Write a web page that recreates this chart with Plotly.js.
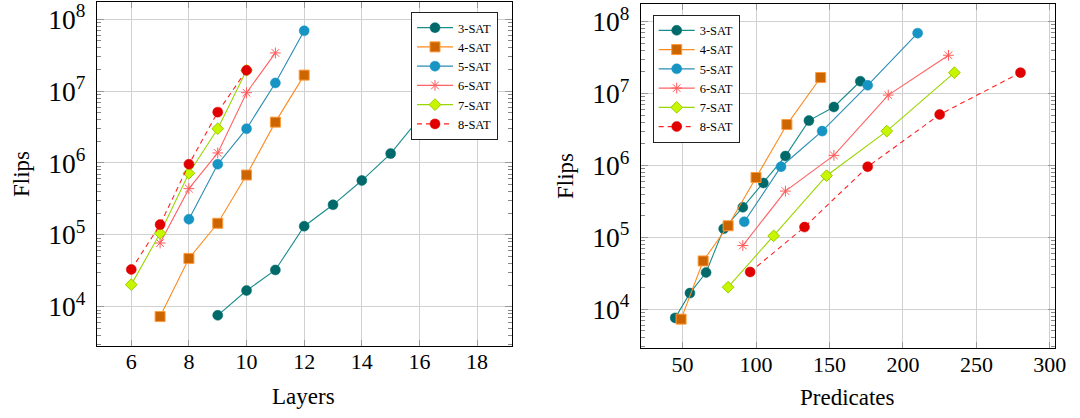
<!DOCTYPE html>
<html>
<head>
<meta charset="utf-8">
<script src="https://cdn.plot.ly/plotly-3.0.1.min.js"></script>
<style>html,body{margin:0;padding:0;background:#fff;}#chart{width:1080px;height:418px;}</style>
</head>
<body>
<div id="chart"></div>
<script>
// ---- data ----
const seriesNames = ["3-SAT", "4-SAT", "5-SAT", "6-SAT", "7-SAT", "8-SAT"];

const layers3 = [9, 10, 11, 12, 13, 14, 15, 16, 17, 18];
const predicates3 = [45, 55, 66, 78, 91, 105, 120, 136, 153, 171];
const flips3 = [7.6e3, 1.68e4, 3.25e4, 1.32e5, 2.62e5, 5.7e5, 1.35e6, 4.2e6, 6.5e6, 1.48e7];

const layers4 = [7, 8, 9, 10, 11, 12];
const predicates4 = [49, 64, 81, 100, 121, 144];
const flips4 = [7.3e3, 4.7e4, 1.45e5, 6.8e5, 3.7e6, 1.67e7];

const layers5 = [8, 9, 10, 11, 12];
const predicates5 = [92, 117, 145, 176, 210];
const flips5 = [1.65e5, 9.6e5, 3.0e6, 1.3e7, 6.9e7];

const layers6 = [7, 8, 9, 10, 11];
const predicates6 = [91, 120, 153, 190, 231];
const flips6 = [7.7e4, 4.4e5, 1.38e6, 9.5e6, 3.4e7];

const layers7 = [6, 7, 8, 9, 10];
const predicates7 = [81, 112, 148, 189, 235];
const flips7 = [2.03e4, 1.05e5, 7.2e5, 3.0e6, 1.95e7];

const layers8 = [6, 7, 8, 9, 10];
const predicates8 = [96, 133, 176, 225, 280];
const flips8 = [3.3e4, 1.39e5, 9.6e5, 5.1e6, 1.95e7];

// ---- styles ----
const styles = [
  {line: {color: "#1a8c8c", width: 1.1}, marker: {symbol: "circle", size: 10, color: "#006a6a", line: {color: "#006a6a", width: 0.5}}},
  {line: {color: "#ff8a1f", width: 1.1}, marker: {symbol: "square", size: 10, color: "#cc6400", line: {color: "#ff9a3a", width: 1}}},
  {line: {color: "#2a8cb4", width: 1.1}, marker: {symbol: "circle", size: 10, color: "#1695c4", line: {color: "#1695c4", width: 0.5}}},
  {line: {color: "#ff6262", width: 1.1}, marker: {symbol: "asterisk-open", size: 9, color: "#ff5a5a", line: {color: "#ff5a5a", width: 1}}},
  {line: {color: "#9ad600", width: 1.1}, marker: {symbol: "diamond", size: 9, color: "#c8f500", line: {color: "#99cc00", width: 1}}},
  {line: {color: "#ff2020", width: 1.1, dash: "5px,4px"}, marker: {symbol: "circle", size: 10, color: "#e00000", line: {color: "#e00000", width: 0.5}}}
];

const layerSets = [layers3, layers4, layers5, layers6, layers7, layers8];
const predSets = [predicates3, predicates4, predicates5, predicates6, predicates7, predicates8];
const flipSets = [flips3, flips4, flips5, flips6, flips7, flips8];

const traces = [];
for (let i = 0; i < seriesNames.length; i++) {
  traces.push({
    type: "scatter", mode: "lines+markers", name: seriesNames[i],
    x: layerSets[i], y: flipSets[i], xaxis: "x", yaxis: "y",
    line: styles[i].line, marker: styles[i].marker, legend: "legend",
    cliponaxis: false
  });
}
for (let i = 0; i < seriesNames.length; i++) {
  traces.push({
    type: "scatter", mode: "lines+markers", name: seriesNames[i],
    x: predSets[i], y: flipSets[i], xaxis: "x2", yaxis: "y2",
    line: styles[i].line, marker: styles[i].marker, legend: "legend2",
    cliponaxis: false
  });
}

const FONT = "Liberation Serif";

function xAxis(domain, range, dtick, tick0, anchor) {
  return {
    domain: domain, range: range, anchor: anchor,
    dtick: dtick, tick0: tick0,
    showline: true, linecolor: "#000", linewidth: 1, mirror: "allticks",
    ticks: "inside", ticklen: 6, tickcolor: "#999", tickwidth: 1,
    showgrid: true, gridcolor: "#d0d0d0", gridwidth: 1,
    zeroline: false,
    tickfont: {family: FONT, size: 22, color: "#000", weight: "normal"},
    ticklabelposition: "outside",
    ticklabelstandoff: -4
  };
}
function yAxis(domain, anchor) {
  return {
    domain: domain, type: "log", range: [3.458, 8.244], anchor: anchor,
    dtick: 1, exponentformat: "power",
    showline: true, linecolor: "#000", linewidth: 1, mirror: "allticks",
    ticks: "inside", ticklen: 7, tickcolor: "#999", tickwidth: 1,
    showgrid: true, gridcolor: "#d0d0d0", gridwidth: 1,
    zeroline: false,
    minor: {ticks: "inside", ticklen: 4, tickcolor: "#888", tickwidth: 1, dtick: "D1", showgrid: false},
    tickfont: {family: FONT, size: 22, color: "#000", weight: "normal"},
    ticklabelposition: "outside",
    ticklabelstandoff: 6
  };
}

const H = 418, W = 1080;
const legendFont = {family: FONT, size: 12.5, color: "#000", weight: "normal"};
const layout = {
  width: W, height: H,
  margin: {l: 0, r: 0, t: 0, b: 0},
  paper_bgcolor: "#fff", plot_bgcolor: "#fff",
  font: {family: FONT, color: "#000"},
  showlegend: true,
  xaxis: xAxis([96.7 / W, 511.7 / W], [4.8, 19.2], 2, 0, "y"),
  yaxis: yAxis([1 - 345.7 / H, 1 - 1.7 / H], "x"),
  xaxis2: xAxis([640.7 / W, 1055 / W], [21.5, 303.5], 50, 0, "y2"),
  yaxis2: yAxis([1 - 348.3 / H, 1 - 4 / H], "x2"),
  legend: {
    x: 498 / W, xanchor: "right", y: 1 - 12 / H, yanchor: "top",
    bgcolor: "#fff", bordercolor: "#222", borderwidth: 1,
    font: legendFont, tracegroupgap: 0, itemwidth: 36
  },
  legend2: {
    x: 652.7 / W, xanchor: "left", y: 1 - 14.7 / H, yanchor: "top",
    bgcolor: "#fff", bordercolor: "#222", borderwidth: 1,
    font: legendFont, tracegroupgap: 0, itemwidth: 36
  },
  annotations: [
    {text: "Flips", xref: "paper", yref: "paper", x: 21 / W, y: 1 - 174 / H, textangle: -90,
     showarrow: false, xanchor: "center", yanchor: "middle", font: {family: FONT, size: 23, color: "#000"}},
    {text: "Layers", xref: "paper", yref: "paper", x: 303 / W, y: 1 - 396 / H,
     showarrow: false, xanchor: "center", yanchor: "middle", font: {family: FONT, size: 23, color: "#000"}},
    {text: "Flips", xref: "paper", yref: "paper", x: 565 / W, y: 1 - 176 / H, textangle: -90,
     showarrow: false, xanchor: "center", yanchor: "middle", font: {family: FONT, size: 23, color: "#000"}},
    {text: "Predicates", xref: "paper", yref: "paper", x: 847 / W, y: 1 - 397 / H,
     showarrow: false, xanchor: "center", yanchor: "middle", font: {family: FONT, size: 23, color: "#000"}}
  ]
};

Plotly.newPlot("chart", traces, layout, {displayModeBar: false, staticPlot: true});
</script>
</body>
</html>
